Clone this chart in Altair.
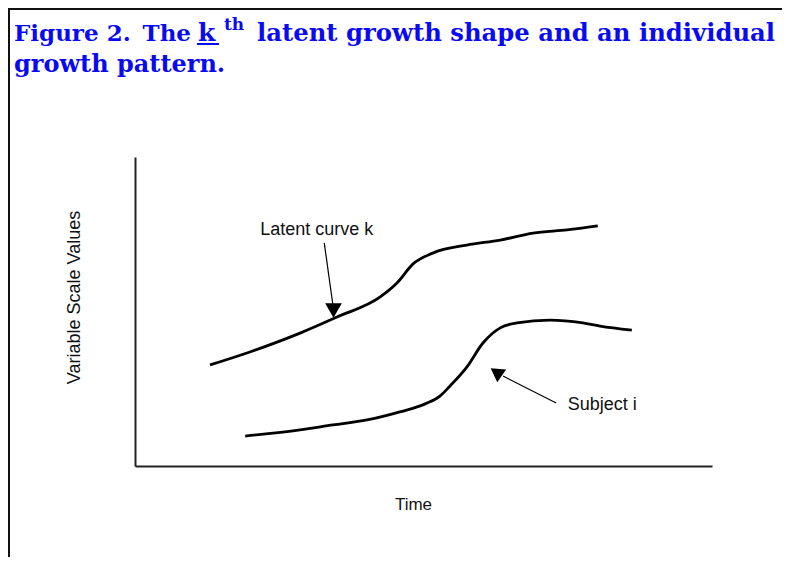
import altair as alt
import pandas as pd

# ---- data (arbitrary 0-100 units) ----
latent_x = [13.0, 19.9, 28.6, 35.0, 42.5, 45.4, 48.2, 51.6, 57.5, 63.3, 69.0, 74.9, 80.2]
latent_y = [32.7, 36.9, 43.0, 48.2, 54.7, 59.2, 65.4, 68.9, 71.5, 73.1, 75.4, 76.4, 77.7]
subject_x = [19.1, 28.6, 34.3, 40.2, 45.9, 50.3, 52.9, 54.6, 57.5, 60.3, 63.3, 66.2, 71.9, 77.6, 80.6, 86.1]
subject_y = [9.7, 11.7, 13.3, 14.9, 17.5, 20.1, 22.7, 25.9, 32.0, 39.8, 44.7, 46.3, 47.2, 46.3, 45.3, 44.0]

label_text = ["Latent curve k", "Subject i"]
label_x = [21.7, 75.0]
label_y = [74.8, 18.1]

arrow_x = [32.8, 73.0]
arrow_y = [72.2, 20.4]
arrow_x2 = [34.3, 63.8]
arrow_y2 = [52.1, 29.1]
head_x = [34.4, 62.6]
head_y = [50.3, 30.4]

title_fig = "Figure 2."
title_the = "The"
title_k = "k"
title_sup = "th"
title_line1b = "latent growth shape and an individual"
title_line2 = "growth pattern."

# ---- tables ----
curves = pd.concat([
    pd.DataFrame({"t": latent_x, "v": latent_y, "series": "Latent curve k", "order": range(len(latent_x))}),
    pd.DataFrame({"t": subject_x, "v": subject_y, "series": "Subject i", "order": range(len(subject_x))}),
])
labels = pd.DataFrame({"t": label_x, "v": label_y, "label": label_text})
arrows = pd.DataFrame({"t": arrow_x, "v": arrow_y, "t2": arrow_x2, "v2": arrow_y2})
heads = pd.DataFrame({"t": head_x, "v": head_y, "which": label_text})

xs = alt.Scale(domain=[0, 100], nice=False, zero=False)
ys = alt.Scale(domain=[0, 100], nice=False, zero=False)

BLUE = "#0a0af0"
SERIF = "DejaVu Serif"
SANS = "Liberation Sans"

x_axis = alt.Axis(domain=True, domainColor="#222", domainWidth=2, ticks=False, labels=False,
                  grid=False, title="Time", titleFont=SANS, titleFontSize=17,
                  titleFontWeight="normal", titleColor="#111", titleX=278, titleY=43,
                  titleBaseline="alphabetic", titleAlign="center")
y_axis = alt.Axis(domain=True, domainColor="#222", domainWidth=2, ticks=False, labels=False,
                  grid=False, title="Variable Scale Values", titleFont=SANS, titleFontSize=18,
                  titleFontWeight="normal", titleColor="#111", titleX=-61, titleY=140,
                  titleAngle=270, titleBaseline="middle", titleAlign="center")

lines = alt.Chart(curves).mark_line(color="black", strokeWidth=2.8, interpolate="monotone").encode(
    x=alt.X("t:Q", scale=xs, axis=x_axis),
    y=alt.Y("v:Q", scale=ys, axis=y_axis),
    detail="series:N",
    order="order:Q",
)

shafts = alt.Chart(arrows).mark_rule(color="black", strokeWidth=1.2).encode(
    x=alt.X("t:Q", scale=xs), y=alt.Y("v:Q", scale=ys),
    x2="t2:Q", y2="v2:Q",
)

head1 = alt.Chart(heads).transform_filter(alt.datum.which == "Latent curve k").mark_point(
    shape="triangle-down", filled=True, color="black", opacity=1, size=280
).encode(x=alt.X("t:Q", scale=xs), y=alt.Y("v:Q", scale=ys))

head2 = alt.Chart(heads).transform_filter(alt.datum.which == "Subject i").mark_point(
    shape="triangle-up", filled=True, color="black", opacity=1, size=240, angle=305
).encode(x=alt.X("t:Q", scale=xs), y=alt.Y("v:Q", scale=ys))

texts = alt.Chart(labels).mark_text(font=SANS, fontSize=18, color="#111", align="left",
                                    baseline="alphabetic").encode(
    x=alt.X("t:Q", scale=xs), y=alt.Y("v:Q", scale=ys), text="label:N")

one = alt.Data(values=[{}])

def ttext(txt, x, y, size=24, align="left"):
    return alt.Chart(one).mark_text(text=txt, font=SERIF, fontSize=size, fontWeight="bold",
                                    color=BLUE, align=align, baseline="alphabetic").encode(
        x=alt.value(x), y=alt.value(y))

title_layers = [
    ttext(title_fig, -121, -116, 23),
    ttext(title_the, 56, -116, 23, "right"),
    ttext(title_k, 63, -116, 25),
    ttext(title_sup, 89, -127, 17),
    ttext(title_line1b, 122, -116, 24.3),
    ttext(title_line2, -121, -85),
]

underline = alt.Chart(one).mark_rule(color=BLUE, strokeWidth=2).encode(
    x=alt.value(62), x2=alt.value(84), y=alt.value(-113))

border_left = alt.Chart(one).mark_rule(color="#111", strokeWidth=2).encode(
    x=alt.value(-126), y=alt.value(-149), y2=alt.value(400))
border_top = alt.Chart(one).mark_rule(color="#111", strokeWidth=2).encode(
    x=alt.value(-127), x2=alt.value(647), y=alt.value(-148))

chart = alt.layer(
    lines, shafts, head1, head2, texts, *title_layers, underline, border_left, border_top
).properties(
    width=577, height=309,
    autosize=alt.AutoSizeParams(type="none"),
    padding={"left": 127, "top": 149, "right": 70, "bottom": 91},
    background="white",
).configure_view(stroke=None)

chart.save("out.html", embed_options={"renderer": "svg", "actions": False})
